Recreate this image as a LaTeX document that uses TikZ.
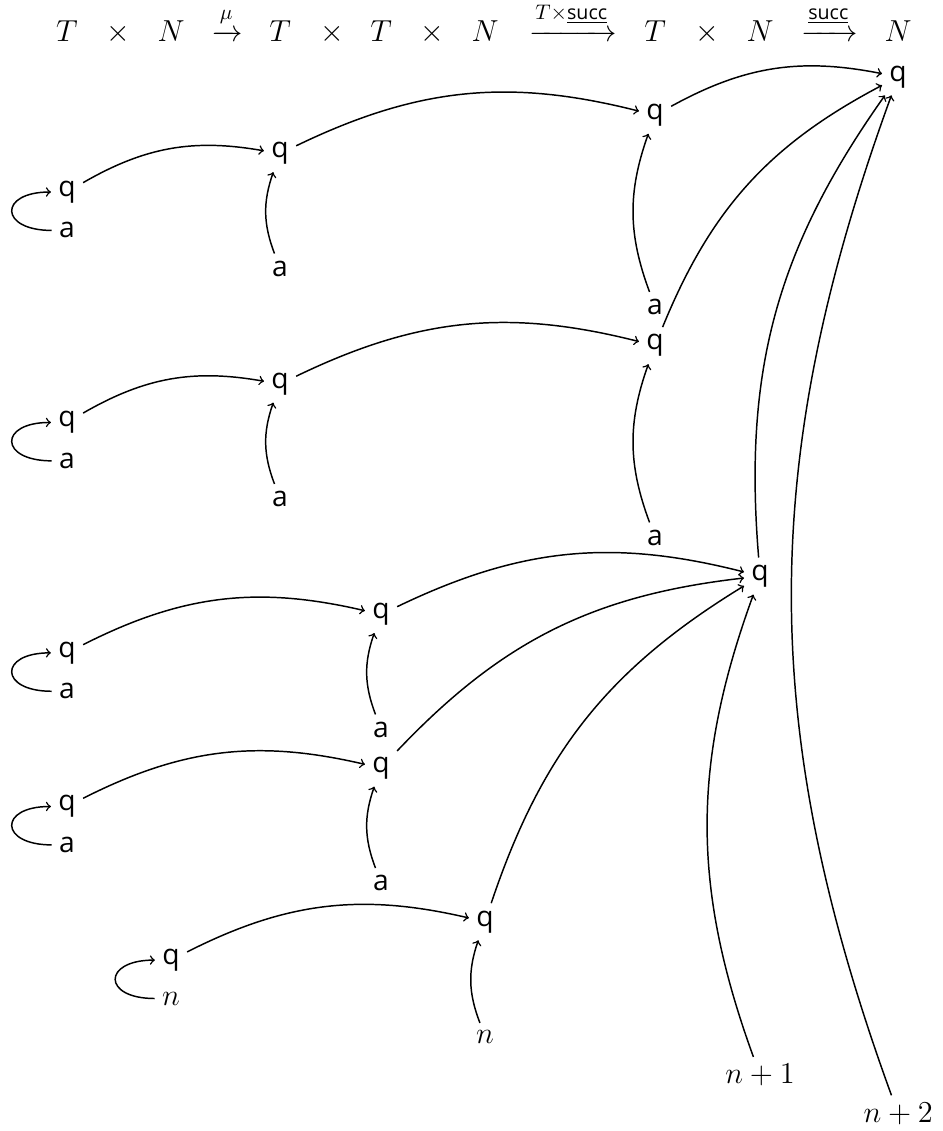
\documentclass[tikz,border=0pt]{standalone}
\usepackage{amsmath}
\usepackage{fontspec}
\setsansfont{Open Sans}[Scale=0.93]

% arrow label lifted a little off the shaft
\newcommand{\arrlbl}[1]{\raisebox{2.5pt}{$\scriptstyle #1$}}

\begin{document}
\begin{tikzpicture}[x=1cm, y=-0.64cm, font=\fontsize{14.4}{17}\selectfont,
  lbl/.style={font=\fontsize{14.4}{17}\selectfont\sffamily},
  top/.style={anchor=base},
  edge/.style={->, line width=0.7pt, bend left=20},
  back/.style={->, line width=0.7pt, out=180, in=180, looseness=3.5}]

\def\cA{1.117} 
\def\cB{2.85}  
\def\cC{4.667} 
\def\cD{6.35}  
\def\cE{8.083} 
\def\cF{10.917}
\def\cG{12.667}
\def\cH{14.967}
\def\yT{1.09}  

\useasboundingbox (0,0) rectangle (15.7,29.45);

% the composite along the top
\node[top] (tT1) at (\cA,\yT)    {$T$};
\node[top] (tx1) at (1.967,\yT)  {$\times$};
\node[top] (tN1) at (\cB,\yT)    {$N$};
\node[top] (tmu) at (3.8,\yT)    {$\xrightarrow{\arrlbl{\mu}}$};
\node[top] (tT2) at (\cC,\yT)    {$T$};
\node[top] (tx2) at (5.533,\yT)  {$\times$};
\node[top] (tT3) at (\cD,\yT)    {$T$};
\node[top] (tx3) at (7.2,\yT)    {$\times$};
\node[top] (tN2) at (\cE,\yT)    {$N$};
\node[top] (tTs) at (9.55,\yT)   {$\xrightarrow{\arrlbl{T\times\underline{\mathsf{succ}}}}$};
\node[top] (tT4) at (\cF,\yT)    {$T$};
\node[top] (tx4) at (11.783,\yT) {$\times$};
\node[top] (tN3) at (\cG,\yT)    {$N$};
\node[top] (tsc) at (13.833,\yT) {$\xrightarrow{\arrlbl{\underline{\mathsf{succ}}}}$};
\node[top] (tN4) at (\cH,\yT)    {$N$};

% first block
\node[lbl] (qH)  at (\cH,2) {q};
\node[lbl] (qF1) at (\cF,3) {q};
\node[lbl] (qC1) at (\cC,4) {q};
\node[lbl] (qA1) at (\cA,5) {q};
\node[lbl] (aA1) at (\cA,6) {a};
\node[lbl] (aC1) at (\cC,7) {a};
\node[lbl] (aF1) at (\cF,8) {a};

% second block
\node[lbl] (qF2) at (\cF,9)  {q};
\node[lbl] (qC2) at (\cC,10) {q};
\node[lbl] (qA2) at (\cA,11) {q};
\node[lbl] (aA2) at (\cA,12) {a};
\node[lbl] (aC2) at (\cC,13) {a};
\node[lbl] (aF2) at (\cF,14) {a};

% third block
\node[lbl] (qG)  at (\cG,15) {q};
\node[lbl] (qD1) at (\cD,16) {q};
\node[lbl] (qA3) at (\cA,17) {q};
\node[lbl] (aA3) at (\cA,18) {a};
\node[lbl] (aD1) at (\cD,19) {a};
\node[lbl] (qD2) at (\cD,20) {q};
\node[lbl] (qA4) at (\cA,21) {q};
\node[lbl] (aA4) at (\cA,22) {a};
\node[lbl] (aD2) at (\cD,23) {a};
\node[lbl] (qE)  at (\cE,24) {q};
\node[lbl] (qB)  at (\cB,25) {q};
\node      (nB)  at (\cB,26) {$n$};
\node      (nE)  at (\cE,27) {$n$};
\node      (n1)  at (\cG,28) {$n+1$};
\node      (n2)  at (\cH,29) {$n+2$};

% arrows into the top q
\draw[edge] (qF1) to (qH);
\draw[edge] (qF2) to (qH);
\draw[edge] (qG) to (qH);
\draw[edge] (n2) to (qH);

\draw[edge] (qC1) to (qF1);
\draw[edge] (aF1) to (qF1);
\draw[edge] (qA1) to (qC1);
\draw[edge] (aC1) to (qC1);
\draw[back] (aA1) to (qA1);

\draw[edge] (qC2) to (qF2);
\draw[edge] (aF2) to (qF2);
\draw[edge] (qA2) to (qC2);
\draw[edge] (aC2) to (qC2);
\draw[back] (aA2) to (qA2);

\draw[edge] (qD1) to (qG);
\draw[edge] (qD2) to (qG);
\draw[edge] (qE) to (qG);
\draw[edge] (n1) to (qG);

\draw[edge] (qA3) to (qD1);
\draw[edge] (aD1) to (qD1);
\draw[back] (aA3) to (qA3);

\draw[edge] (qA4) to (qD2);
\draw[edge] (aD2) to (qD2);
\draw[back] (aA4) to (qA4);

\draw[edge] (qB) to (qE);
\draw[edge] (nE) to (qE);
\draw[back] (nB) to (qB);
\end{tikzpicture}
\end{document}
